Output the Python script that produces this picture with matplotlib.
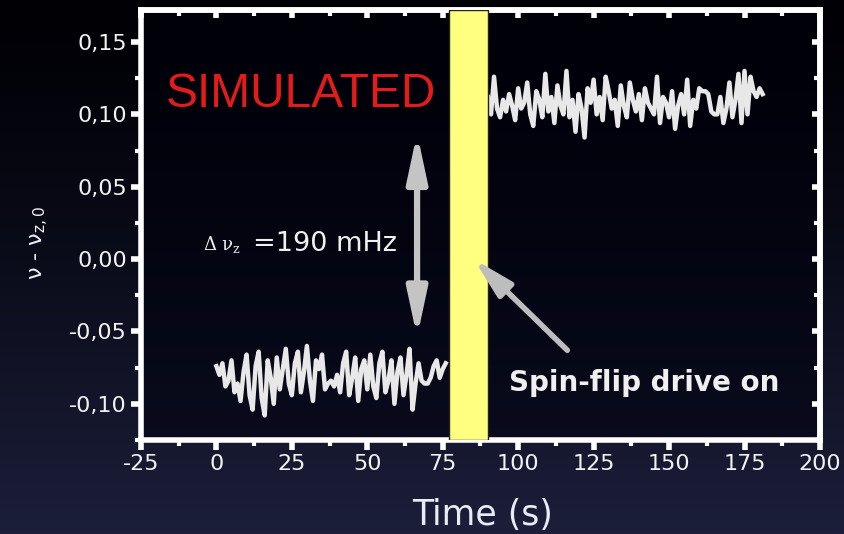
import numpy as np
import matplotlib.pyplot as plt
from matplotlib.ticker import MultipleLocator, FixedLocator, FuncFormatter

# trace before the spin flip (t = 0 .. 76 s, 1 s steps)
t_before_start = 0
nu_before = [-0.074, -0.080, -0.072, -0.088, -0.084, -0.070, -0.092, -0.086, -0.098, -0.078,
             -0.066, -0.094, -0.104, -0.074, -0.064, -0.096, -0.108, -0.070, -0.082, -0.100,
             -0.068, -0.090, -0.076, -0.062, -0.086, -0.094, -0.072, -0.064, -0.092, -0.078,
             -0.060, -0.084, -0.098, -0.070, -0.076, -0.066, -0.090, -0.086, -0.084, -0.088,
             -0.080, -0.092, -0.072, -0.064, -0.094, -0.082, -0.068, -0.098, -0.076, -0.070,
             -0.090, -0.066, -0.088, -0.096, -0.072, -0.064, -0.092, -0.084, -0.070, -0.100,
             -0.078, -0.068, -0.094, -0.080, -0.062, -0.104, -0.086, -0.072, -0.084, -0.086,
             -0.086, -0.082, -0.074, -0.070, -0.082, -0.076, -0.072]

# trace after the spin flip (t = 90 .. 181 s)
t_after_start = 90
nu_after = [0.112, 0.100, 0.126, 0.104, 0.098, 0.110, 0.102, 0.114, 0.106, 0.096,
            0.118, 0.104, 0.108, 0.122, 0.100, 0.092, 0.116, 0.110, 0.098, 0.128,
            0.102, 0.112, 0.094, 0.120, 0.106, 0.100, 0.130, 0.098, 0.110, 0.088,
            0.114, 0.104, 0.084, 0.118, 0.108, 0.124, 0.100, 0.112, 0.096, 0.126,
            0.116, 0.104, 0.110, 0.092, 0.120, 0.106, 0.098, 0.122, 0.110, 0.102,
            0.114, 0.096, 0.118, 0.108, 0.104, 0.100, 0.126, 0.094, 0.112, 0.108,
            0.098, 0.116, 0.090, 0.106, 0.114, 0.100, 0.124, 0.092, 0.110, 0.104,
            0.118, 0.116, 0.116, 0.114, 0.102, 0.100, 0.100, 0.112, 0.094, 0.104,
            0.122, 0.098, 0.110, 0.128, 0.094, 0.130, 0.100, 0.126, 0.116, 0.112,
            0.118, 0.114]

drive_on = (77, 90)
x_ticks = [-25, 0, 25, 50, 75, 100, 125, 150, 175, 200]
y_ticks = [-0.10, -0.05, 0.00, 0.05, 0.10, 0.15]

t_before = t_before_start + np.arange(len(nu_before))
t_after = t_after_start + np.arange(len(nu_after))

fig = plt.figure(figsize=(8.44, 5.34), dpi=100)

# dark gradient background
bg = fig.add_axes([0, 0, 1, 1], zorder=-10)
grad = np.linspace(0, 1, 256).reshape(-1, 1)
top_c = np.array([0.0, 0.0, 0.02])
bot_c = np.array([0.11, 0.12, 0.23])
img = top_c + (bot_c - top_c) * grad[..., None] ** 1.3
bg.imshow(img, aspect='auto', extent=[0, 1, 0, 1], origin='upper')
bg.axis('off')

ax = fig.add_axes([0.167, 0.176, 0.8045, 0.805])
ax.set_facecolor((0.0, 0.0, 0.05, 0.55))

ax.plot(t_before, nu_before, color='#e8e8e8', lw=3.2, zorder=3)
ax.plot(t_after, nu_after, color='#e8e8e8', lw=3.2, zorder=3)
ax.axvspan(drive_on[0], drive_on[1], facecolor='#ffff80', edgecolor='#222222', lw=1, zorder=4)

ax.set_xlim(-25, 200)
ax.set_ylim(-0.125, 0.172)

for s in ax.spines.values():
    s.set_color('white')
    s.set_linewidth(4)

ax.xaxis.set_major_locator(FixedLocator(x_ticks))
ax.yaxis.set_major_locator(FixedLocator(y_ticks))
ax.xaxis.set_minor_locator(MultipleLocator(12.5))
ax.yaxis.set_minor_locator(MultipleLocator(0.025))
ax.yaxis.set_major_formatter(FuncFormatter(lambda v, p: ('%.2f' % v).replace('.', ',').replace('-0,00', '0,00')))
ax.xaxis.set_major_formatter(FuncFormatter(lambda v, p: '%d' % v))
ax.tick_params(which='major', direction='out', length=7, width=4, colors='white',
               labelsize=16, labelcolor='#f2f2f2', pad=3)
ax.tick_params(which='minor', direction='out', length=4, width=3, colors='white')

# inward ticks on top and right
top = ax.secondary_xaxis('top')
top.xaxis.set_major_locator(FixedLocator(x_ticks))
top.xaxis.set_minor_locator(MultipleLocator(12.5))
top.tick_params(which='major', direction='in', length=6, width=4, colors='white', labeltop=False)
top.tick_params(which='minor', direction='in', length=4, width=3, colors='white')
right = ax.secondary_yaxis('right')
right.yaxis.set_major_locator(FixedLocator(y_ticks))
right.yaxis.set_minor_locator(MultipleLocator(0.025))
right.tick_params(which='major', direction='in', length=6, width=4, colors='white', labelright=False)
right.tick_params(which='minor', direction='in', length=4, width=3, colors='white')
for sa in (top, right):
    for s in sa.spines.values():
        s.set_color('white')
        s.set_linewidth(4)

# labels
fig.text(40 / 844, 1 - 243 / 534, r'ν - ν$_{\mathregular{z,0}}$', rotation=90,
         ha='center', va='center', color='#f0f0f0', fontsize=16)
fig.text(483 / 844, 1 - 515 / 534, 'Time (s)', ha='center', va='center',
         color='#e8ecf4', fontsize=25)

ax.text(-16.8, 0.1138, 'SIMULATED', color='#e31b1b', fontsize=34.5,
        family='Liberation Sans', ha='left', va='center')

ax.text(-4.5, 0.0104, r'Δ ν$_{\mathregular{z}}$', color='#f0f0f0', fontsize=13,
        family='DejaVu Serif', ha='left', va='center')
ax.text(12.1, 0.0104, '=190 mHz', color='#f0f0f0', fontsize=19.5,
        ha='left', va='center')

ax.annotate('', xy=(66.5, 0.087), xytext=(66.5, -0.054),
            arrowprops=dict(arrowstyle='<|-|>,head_length=1.4,head_width=0.3',
                            mutation_scale=20, lw=4.5, color='#c4c4c4',
                            shrinkA=0, shrinkB=0), zorder=5)
ax.annotate('', xy=(85.3, 0.0), xytext=(116.3, -0.063),
            arrowprops=dict(arrowstyle='-|>,head_length=1.2,head_width=0.3',
                            mutation_scale=20, lw=4, color='#bdbdbd',
                            shrinkA=0, shrinkB=0), zorder=5)
ax.text(97, -0.0855, 'Spin-flip drive on', color='#f0f0f0', fontsize=20,
        fontweight='bold', ha='left', va='center')

fig.savefig('out.png', dpi=100, facecolor='black')
